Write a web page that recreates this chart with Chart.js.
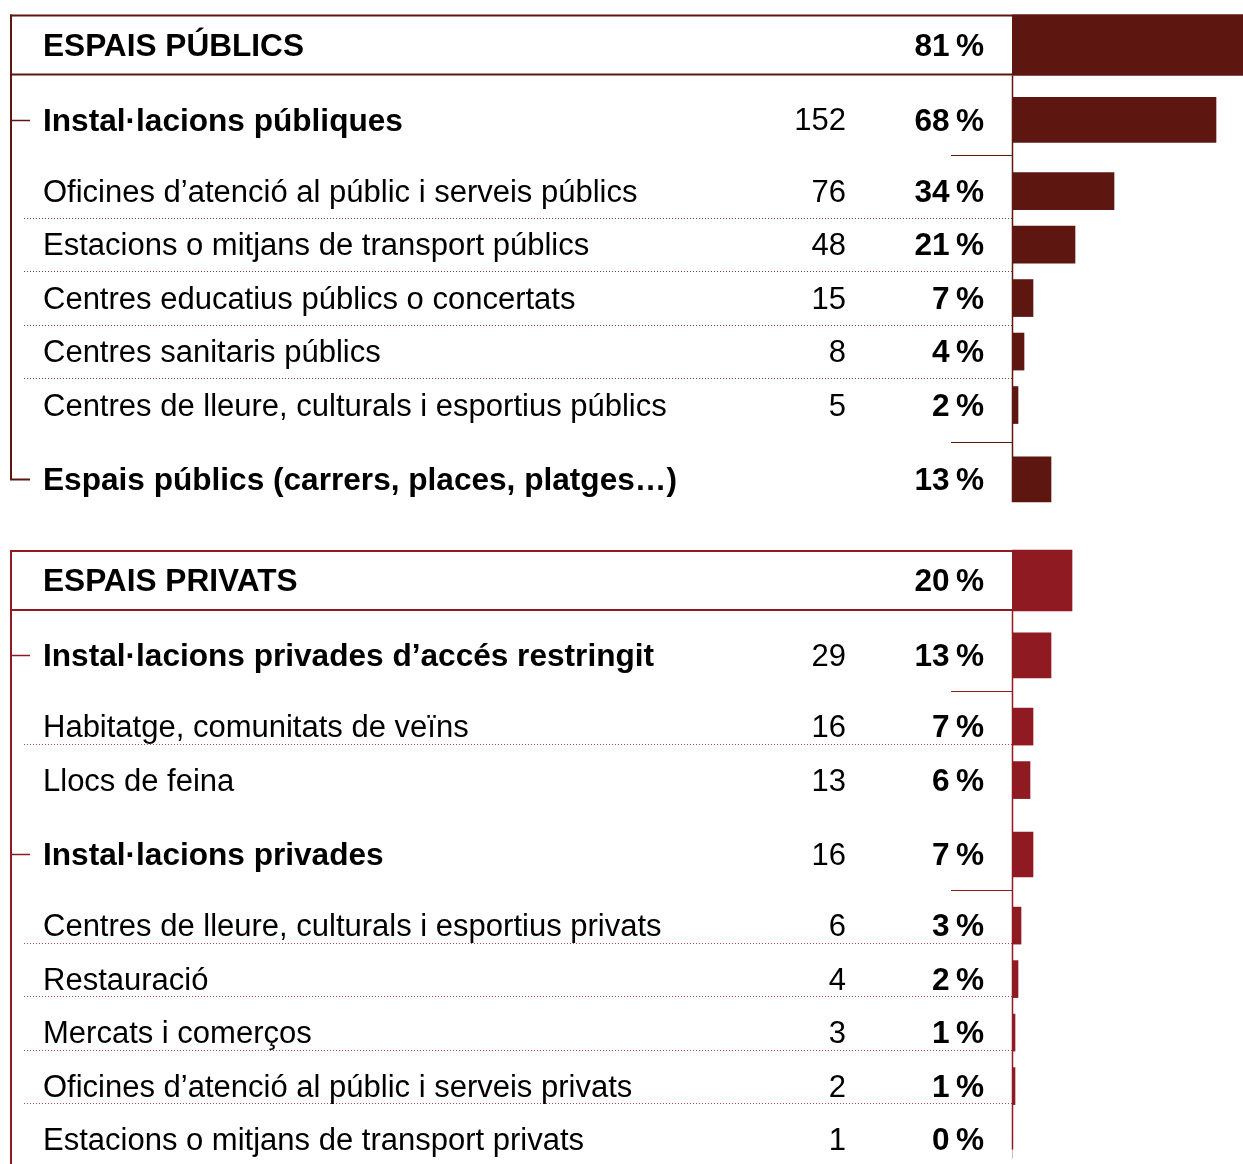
<!DOCTYPE html>
<html>
<head>
<meta charset="utf-8">
<script src="https://cdn.jsdelivr.net/npm/chart.js@4/dist/chart.umd.min.js"></script>
<style>
  html, body { margin: 0; padding: 0; background: #ffffff; }
  #wrap { width: 1243px; height: 1164px; position: relative; }
</style>
</head>
<body>
<div id="wrap"><canvas id="chart"></canvas></div>
<script>
// ---------------- DATA ----------------
const rowLabels = [
  'ESPAIS PÚBLICS',
  'Instal·lacions públiques',
  'Oficines d’atenció al públic i serveis públics',
  'Estacions o mitjans de transport públics',
  'Centres educatius públics o concertats',
  'Centres sanitaris públics',
  'Centres de lleure, culturals i esportius públics',
  'Espais públics (carrers, places, platges…)',
  'ESPAIS PRIVATS',
  'Instal·lacions privades d’accés restringit',
  'Habitatge, comunitats de veïns',
  'Llocs de feina',
  'Instal·lacions privades',
  'Centres de lleure, culturals i esportius privats',
  'Restauració',
  'Mercats i comerços',
  'Oficines d’atenció al públic i serveis privats',
  'Estacions o mitjans de transport privats'
];
const rowLevels = ['header','group','item','item','item','item','item','group',
                   'header','group','item','item','group','item','item','item','item','item'];
const rowSections = ['pub','pub','pub','pub','pub','pub','pub','pub',
                     'priv','priv','priv','priv','priv','priv','priv','priv','priv','priv'];
const rowCounts = [null, 152, 76, 48, 15, 8, 5, null,
                   null, 29, 16, 13, 16, 6, 4, 3, 2, 1];
const rowPercents = [81, 68, 34, 21, 7, 4, 2, 13,
                     20, 13, 7, 6, 7, 3, 2, 1, 1, 0];

// ---------------- STYLE / LAYOUT ----------------
const sectionColors = { pub: '#5e1611', priv: '#8f1a21' };
const sectionDots   = { pub: 'rgba(110,30,25,0.85)', priv: 'rgba(160,30,40,0.8)' };
const rowRules = ['', 'short', 'dot', 'dot', 'dot', 'dot', 'short', '',
                  '', 'short', 'dot', '', 'short', 'dot', 'dot', 'dot', 'dot', ''];
const dotFraction = { pub: 0.5, priv: 0.32 };
const levelThickness = { header: 61, group: 45, item: 37 };
const gapUnits = { 'header>group': 1.4, 'group>item': 1.33, 'item>item': 1,
                   'item>group': 1.39, 'group>header': 1.89 };
const unitPx = 53.5, firstRowPx = 45;
const txt = { family: '"Liberation Sans", Arial, Helvetica, sans-serif', size: 31, boldSize: 31.6,
              labelX: 43, countRight: 846, pctRight: 984, dy: 2 };
const geo = { barLeft: 1012, bracketX: 11, tickEnd: 30, dotStart: 24, shortStart: 951 };

// row positions along the (linear) category axis, in row-pitch units
const rowPos = [];
{
  let acc = 0;
  rowLevels.forEach((lv, i) => {
    if (i > 0) acc += gapUnits[rowLevels[i - 1] + '>' + lv];
    rowPos.push(acc);
  });
}

const W = 1243, H = 1164;
const yMin = -firstRowPx / unitPx;
const yMax = yMin + H / unitPx;
const xMax = (W - geo.barLeft) / 3; // 3 px per percentage point

const datasets = ['header', 'group', 'item'].map(lv => ({
  label: lv,
  data: rowLabels.map((_, i) => i).filter(i => rowLevels[i] === lv)
        .map(i => ({ x: rowPercents[i], y: rowPos[i], row: i })),
  barThickness: levelThickness[lv],
  grouped: false,
  borderWidth: 0,
  backgroundColor: c => (c.raw ? sectionColors[rowSections[c.raw.row]] : '#000')
}));

const decorPlugin = {
  id: 'decor',
  beforeDatasetsDraw(chart) {
    const ctx = chart.ctx, ys = chart.scales.y;
    const yp = i => ys.getPixelForValue(rowPos[i]);
    ctx.save();
    ['pub', 'priv'].forEach(sec => {
      const idx = rowSections.map((s, i) => s === sec ? i : -1).filter(i => i >= 0);
      const col = sectionColors[sec];
      const h = idx[0], last = idx[idx.length - 1];
      const hTop = yp(h) - levelThickness.header / 2;
      const hBot = yp(h) + levelThickness.header / 2;
      ctx.strokeStyle = col;
      ctx.setLineDash([]);
      // header box lines
      ctx.lineWidth = 2;
      ctx.beginPath();
      ctx.moveTo(geo.bracketX - 1, hTop + 1); ctx.lineTo(geo.barLeft, hTop + 1);
      ctx.moveTo(geo.bracketX - 1, hBot - 1); ctx.lineTo(geo.barLeft, hBot - 1);
      ctx.stroke();
      // left bracket
      const lastIsGroup = rowLevels[last] === 'group';
      const bracketEnd = lastIsGroup ? yp(last) : chart.height;
      ctx.beginPath();
      ctx.moveTo(geo.bracketX, hTop); ctx.lineTo(geo.bracketX, bracketEnd);
      if (lastIsGroup) ctx.lineTo(geo.tickEnd, bracketEnd);
      ctx.stroke();
      // ticks at groups
      ctx.lineWidth = 1.5;
      idx.forEach(i => {
        if (rowLevels[i] === 'group' && !(i === last && lastIsGroup)) {
          const y = Math.round(yp(i)) + 0.5;
          ctx.beginPath(); ctx.moveTo(geo.bracketX, y); ctx.lineTo(geo.tickEnd, y); ctx.stroke();
        }
      });
      // vertical axis line at bar base
      const vEnd = yp(last) + (lastIsGroup ? levelThickness.group / 2 : 10);
      ctx.lineWidth = 1.5;
      ctx.beginPath(); ctx.moveTo(geo.barLeft + 0.5, hBot); ctx.lineTo(geo.barLeft + 0.5, vEnd); ctx.stroke();
      // separators
      idx.forEach(i => {
        if (i === last) return;
        const r = rowRules[i];
        if (!r) return;
        if (r === 'short') {
          const y = Math.round((yp(i) + yp(i + 1)) / 2) + 0.5;
          ctx.setLineDash([]); ctx.lineWidth = 1.2; ctx.strokeStyle = col;
          ctx.beginPath(); ctx.moveTo(geo.shortStart, y); ctx.lineTo(geo.barLeft, y); ctx.stroke();
        } else if (r === 'dot') {
          const f = dotFraction[sec];
          const y = Math.round(yp(i) + (yp(i + 1) - yp(i)) * f) + 0.5;
          ctx.setLineDash([1, 2]); ctx.lineWidth = 1; ctx.strokeStyle = sectionDots[sec];
          ctx.beginPath(); ctx.moveTo(geo.dotStart, y); ctx.lineTo(geo.barLeft, y); ctx.stroke();
          ctx.setLineDash([]);
        }
      });
    });
    ctx.restore();
  },
  afterDatasetsDraw(chart) {
    const ctx = chart.ctx, ys = chart.scales.y;
    ctx.save();
    ctx.fillStyle = '#000';
    ctx.textBaseline = 'middle';
    const regular = '400 ' + txt.size + 'px ' + txt.family;
    const bold = '700 ' + txt.boldSize + 'px ' + txt.family;
    rowLabels.forEach((lab, i) => {
      const y = ys.getPixelForValue(rowPos[i]) + txt.dy;
      ctx.font = rowLevels[i] !== 'item' ? bold : regular;
      ctx.textAlign = 'left';
      ctx.fillText(lab, txt.labelX, y);
      if (rowCounts[i] !== null) {
        ctx.font = regular;
        ctx.textAlign = 'right';
        ctx.fillText(String(rowCounts[i]), txt.countRight, y);
      }
      ctx.font = bold;
      ctx.textAlign = 'right';
      ctx.fillText(rowPercents[i] + '\u202F%', txt.pctRight, y);
    });
    ctx.restore();
  }
};

new Chart(document.getElementById('chart'), {
  type: 'bar',
  data: { datasets },
  options: {
    indexAxis: 'y',
    responsive: true,
    maintainAspectRatio: false,
    animation: false,
    events: [],
    layout: { padding: { left: geo.barLeft, right: 0, top: 0, bottom: 0 } },
    scales: {
      x: { type: 'linear', min: 0, max: xMax, display: false, offset: false },
      y: { type: 'linear', min: yMin, max: yMax, reverse: true, display: false, offset: false, grace: 0 }
    },
    plugins: { legend: { display: false }, tooltip: { enabled: false } }
  },
  plugins: [decorPlugin]
});
</script>
</body>
</html>
